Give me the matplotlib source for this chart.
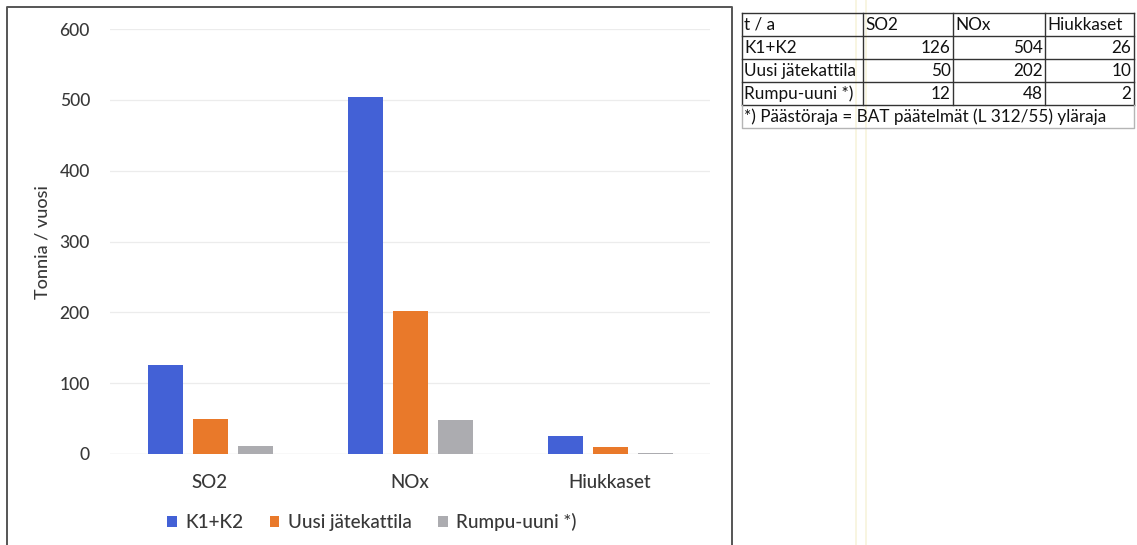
import matplotlib
matplotlib.use("Agg")
import matplotlib.pyplot as plt
from matplotlib.patches import Patch
import numpy as np

plt.rcParams['font.family'] = ['Lato', 'DejaVu Sans']

# --- data -------------------------------------------------------------
categories = ["SO2", "NOx", "Hiukkaset"]
series_names = ["K1+K2", "Uusi jätekattila", "Rumpu-uuni *)"]
k1k2 = [126, 504, 26]
uusi = [50, 202, 10]
rumpu = [12, 48, 2]
series_values = [k1k2, uusi, rumpu]
y_ticks = [0, 100, 200, 300, 400, 500, 600]
y_label = "Tonnia / vuosi"
table_corner = "t / a"
table_note = "*) Päästöraja = BAT päätelmät (L 312/55) yläraja"

colors = ["#4361d6", "#e9792a", "#acacb0"]
text_col = "#383838"

W, H = 1137, 545
fig = plt.figure(figsize=(W / 100, H / 100), dpi=100)
fig.patch.set_facecolor("white")

# --- bar chart ----------------------------------------------------------
left, right, top, bottom = 110, 710, 29, 454
ax = fig.add_axes([left / W, 1 - bottom / H, (right - left) / W, (bottom - top) / H])
x = np.arange(len(categories))
bw = 0.175
step = 0.225
for i, (name, vals) in enumerate(zip(series_names, series_values)):
    ax.bar(x + (i - 1) * step, vals, width=bw, color=colors[i], label=name, zorder=3)

ax.set_xlim(-0.5, len(categories) - 0.5)
ax.set_ylim(0, 600)
ax.set_yticks(y_ticks)
ax.set_yticklabels([str(t) for t in y_ticks], fontsize=12.5, color=text_col,
                   fontweight="medium")
ax.set_xticks(x)
ax.set_xticklabels(categories, fontsize=13.5, color=text_col, fontweight="medium")
ax.tick_params(axis="both", length=0)
ax.tick_params(axis="y", pad=14.4)
ax.tick_params(axis="x", pad=14.5)
for s in ax.spines.values():
    s.set_visible(False)
ax.yaxis.grid(True, color="#ececec", linewidth=0.9, zorder=0)
ax.axhline(0, color="#dcdcdc", linewidth=0.9, zorder=1)
ax.set_facecolor("none")
fig.text(42 / W, 1 - 242 / H, y_label, rotation=90, ha="center", va="center",
         fontsize=13, color=text_col, fontweight="medium")

handles = [Patch(facecolor=c, edgecolor="none") for c in colors]
leg = fig.legend(handles, series_names, loc="center", bbox_to_anchor=(372 / W, 1 - 522 / H),
                 ncol=3, frameon=False, fontsize=13.6, handlelength=0.5, handleheight=0.5,
                 handletextpad=0.45, columnspacing=1.4, labelcolor=text_col)
for t in leg.get_texts():
    t.set_fontweight("medium")

# --- overlay in pixel coordinates: frame and data table ----------------
ov = fig.add_axes([0, 0, 1, 1], zorder=5)
ov.set_xlim(0, W)
ov.set_ylim(H, 0)
ov.axis("off")
ov.patch.set_alpha(0)

# faint yellow page streaks
for xs in (856, 866):
    ov.plot([xs, xs], [0, H], color="#f7f4dc", linewidth=1.2, zorder=0)

# chart frame (runs off the bottom edge)
ov.plot([7, 7, 732, 732], [H + 5, 7, 7, H + 5], color="#555555", linewidth=1.4)

col_edges = [742, 863, 953, 1045, 1134]
row_top, row_h = 13, 23
header = [table_corner] + categories
rows = [[n] + [str(v[j]) for j in range(len(categories))]
        for n, v in zip(series_names, series_values)]
tfs = 12.3
tcol = "#111111"
n_rows = 1 + len(rows)
y_bottom_grid = row_top + n_rows * row_h
# grid lines of the value table
for r in range(n_rows + 1):
    yy = row_top + r * row_h
    ov.plot([col_edges[0], col_edges[-1]], [yy, yy], color="#333333", linewidth=1.0)
for c in col_edges:
    ov.plot([c, c], [row_top, y_bottom_grid], color="#333333", linewidth=1.0)
# footnote row with lighter frame
note_bot = y_bottom_grid + row_h
ov.plot([col_edges[0], col_edges[0], col_edges[-1], col_edges[-1]],
        [y_bottom_grid, note_bot, note_bot, y_bottom_grid], color="#b5b5b5", linewidth=1.0)

for j, h in enumerate(header):
    ov.text(col_edges[j] + 2.5, row_top + row_h / 2 + 0.5, h, ha="left", va="center",
            fontsize=tfs, color=tcol)
for r, row in enumerate(rows):
    yc = row_top + (r + 1) * row_h + row_h / 2 + 0.5
    ov.text(col_edges[0] + 2.5, yc, row[0], ha="left", va="center", fontsize=tfs, color=tcol)
    for j in range(1, len(row)):
        ov.text(col_edges[j + 1] - 2.5, yc, row[j], ha="right", va="center",
                fontsize=tfs, color=tcol)
ov.text(col_edges[0] + 2.5, y_bottom_grid + row_h / 2 + 0.5, table_note, ha="left",
        va="center", fontsize=tfs, color=tcol)

fig.savefig("out.png", dpi=100, facecolor="white")
